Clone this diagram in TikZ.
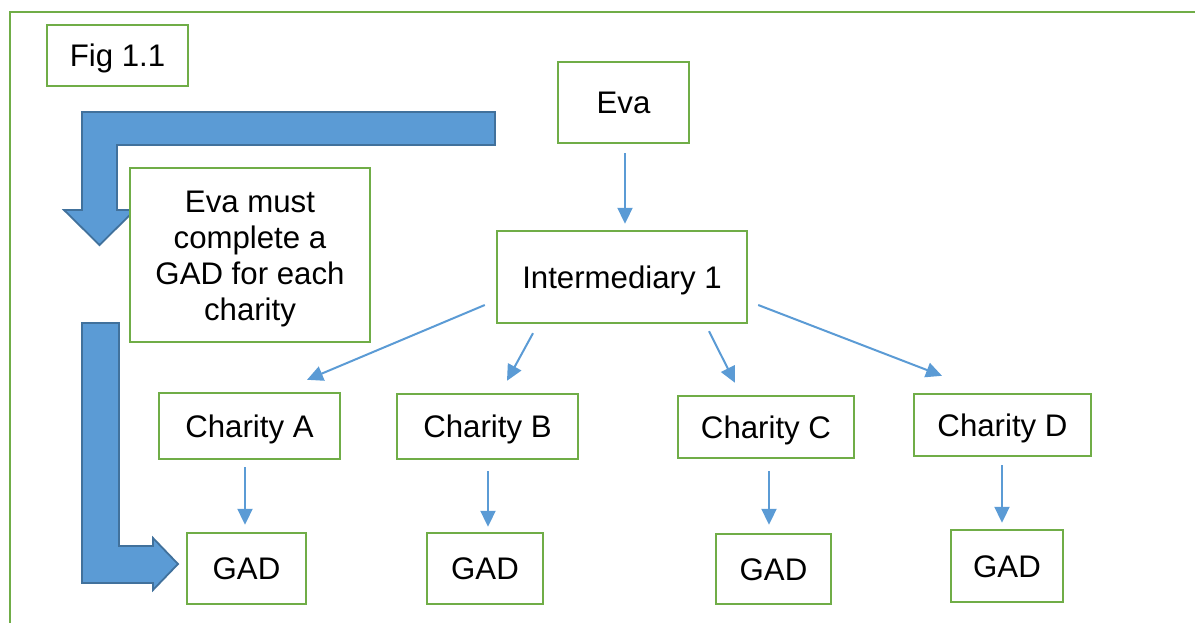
\documentclass[tikz,border=0pt]{standalone}
\usepackage{fontspec}
\setmainfont{Liberation Sans}
\usetikzlibrary{arrows.meta,calc}
\definecolor{boxgreen}{HTML}{70AD47}
\definecolor{arrblue}{HTML}{5B9BD5}
\definecolor{bigfill}{HTML}{5B9BD5}
\definecolor{bigedge}{HTML}{41719C}
\begin{document}
\begin{tikzpicture}[x=0.5pt,y=-0.5pt,
  every node/.style={font=\fontsize{15.6pt}{18pt}\selectfont},
  box/.style={draw=boxgreen,line width=1.2pt,fill=white,inner sep=0pt,
    text height=11.2pt,text depth=0pt},
  plainbox/.style={draw=boxgreen,line width=1.2pt,fill=white,inner sep=0pt},
  arr/.style={draw=arrblue,line width=1pt,-{Triangle[width=7.5pt,length=8pt]}},
  bigarrow/.style={fill=bigfill,draw=bigedge,line width=0.9pt,line join=miter}]
\useasboundingbox (0,0) rectangle (1195,622);
% outer frame
\draw[boxgreen,line width=1pt] (10,640) -- (10,12) -- (1200,12);
% big bent arrows
\draw[bigarrow] (82,112) -- (495,112) -- (495,145) -- (117,145) -- (117,210)
  -- (135,210) -- (99.5,245) -- (64,210) -- (82,210) -- cycle;
\draw[bigarrow] (82,323) -- (119,323) -- (119,546) -- (153,546) -- (153,538)
  -- (178,564) -- (153,590) -- (153,583) -- (82,583) -- cycle;
% boxes
\node[box,minimum width=70.5pt,minimum height=30.5pt] (fig) at (117.5,55.5) {Fig 1.1};
\node[box,minimum width=65.5pt,minimum height=40.5pt] (eva) at (623.5,102.5) {Eva};
\node[box,minimum width=125pt,minimum height=46pt] (int) at (622,277) {Intermediary 1};
\node[plainbox,minimum width=120pt,minimum height=87pt] (note) at (250,255) {};
\node[align=center,inner sep=0pt] (noteText) at (250,259) {Eva must\\complete a\\GAD for each\\charity};
\node[box,minimum width=90.5pt,minimum height=33pt] (chA) at (249.5,426) {Charity A};
\node[box,minimum width=90.5pt,minimum height=32.5pt] (chB) at (487.5,426.5) {Charity B};
\node[box,minimum width=88pt,minimum height=31pt] (chC) at (766,427) {Charity C};
\node[box,minimum width=88.5pt,minimum height=31pt] (chD) at (1002.5,425) {Charity D};
\node[box,minimum width=59.5pt,minimum height=35.5pt] (gA) at (246.5,568.5) {GAD};
\node[box,minimum width=58pt,minimum height=35.5pt] (gB) at (485,568.5) {GAD};
\node[box,minimum width=57.5pt,minimum height=35pt] (gC) at (773.5,569) {GAD};
\node[box,minimum width=56pt,minimum height=36pt] (gD) at (1007,566) {GAD};
% connectors
\coordinate (xE) at (625,0);
\draw[arr,shorten <=4.5pt,shorten >=3pt] (eva.south -| xE) -- (int.north -| xE);
\draw[arr] ($(int.west)+(-11,28)$) -- ($(chA.north)+(57.5,-12)$);
\draw[arr] ($(int.south)+(-89,9)$) -- ($(chB.north)+(19.5,-12)$);
\draw[arr] ($(int.south)+(87,7)$) -- ($(chC.north)+(-31,-12)$);
\draw[arr] ($(int.east)+(10,28)$) -- ($(chD.north)+(-60.5,-17)$);
\coordinate (xA) at (245,0);
\coordinate (xB) at (488,0);
\coordinate (xC) at (769,0);
\coordinate (xD) at (1002,0);
\draw[arr,shorten <=3.5pt,shorten >=3.5pt] (chA.south -| xA) -- (gA.north -| xA);
\draw[arr,shorten <=5.5pt,shorten >=2.5pt] (chB.south -| xB) -- (gB.north -| xB);
\draw[arr,shorten <=6pt,shorten >=4pt] (chC.south -| xC) -- (gC.north -| xC);
\draw[arr,shorten <=4pt,shorten >=3pt] (chD.south -| xD) -- (gD.north -| xD);
\end{tikzpicture}
\end{document}
